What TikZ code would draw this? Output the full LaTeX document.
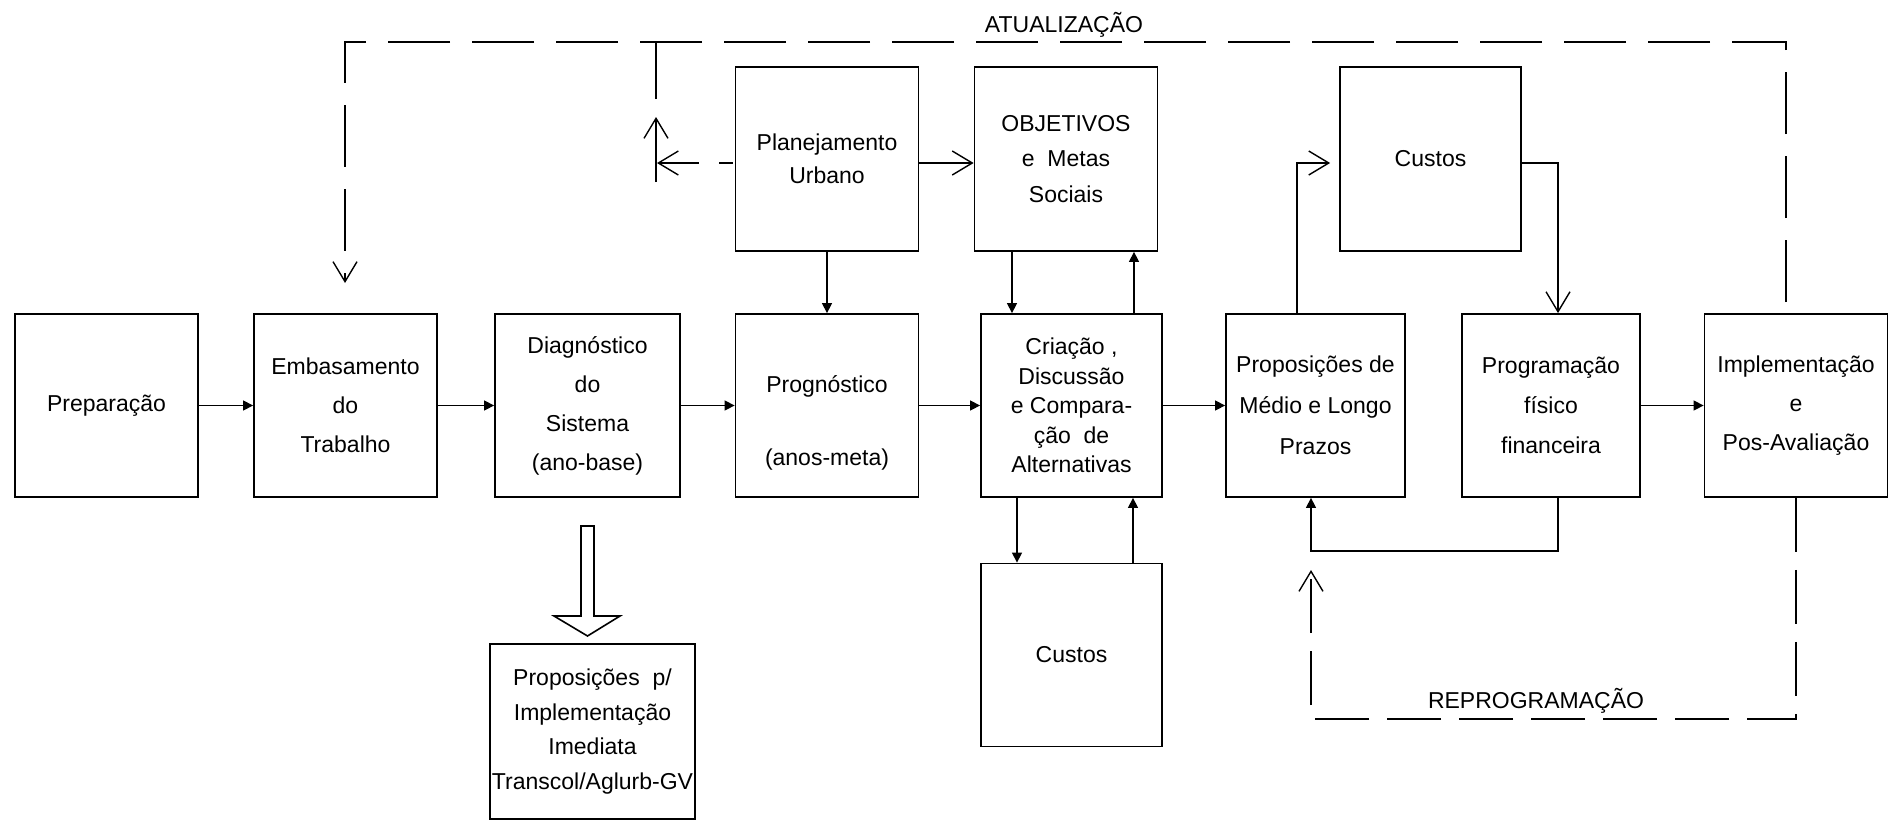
\documentclass[tikz,border=0pt]{standalone}
\usepackage{fontspec}
\setmainfont{Liberation Sans}
\usetikzlibrary{arrows.meta,calc}
\begin{document}
\begin{tikzpicture}[x=0.5pt,y=-0.5pt,
  bx/.style={draw, line width=0.9pt, inner sep=0pt, align=center, minimum width=91.5pt, minimum height=91.5pt},
  ls/.style={font=\fontsize{11.5pt}{#1}\selectfont},
  txt/.style={inner sep=0pt, font=\fontsize{11.5pt}{14pt}\selectfont},
  conn/.style={line width=0.7pt},
  fil/.tip={Triangle[length=5pt,width=5pt]},
  opn/.tip={Straight Barb[length=10pt,width=12pt,line width=0.7pt]},
  dsh/.style={dash pattern=on 31pt off 11pt},
]
\useasboundingbox (0,0) rectangle (1892,825);

% main row
\node[bx, ls=14pt] (prep) at (106.5,405.5) {Preparação};
\node[bx, ls=19.5pt] (emb) at (345.5,405.5) {Embasamento\\do\\Trabalho};
\node[bx, ls=19.5pt, minimum width=92.5pt] (diag) at (587.5,405.5) {Diagnóstico\\do\\Sistema\\(ano-base)};
\node[bx] (prog) at (827,405.5) {};
\node[txt] (progt1) at (827,386) {Prognóstico};
\node[txt] (progt2) at (827,460) {(anos-meta)};
\node[bx, ls=14.75pt, minimum width=90.5pt] (cria) at (1071.5,405.5) {Criação ,\\Discussão\\e Compara-\\ção~ de\\Alternativas};
\node[bx, ls=20.5pt, minimum width=89.5pt] (prop) at (1315.5,405.5) {Proposições de\\Médio e Longo\\Prazos};
\node[bx, ls=20pt, minimum width=89pt] (progr) at (1551,405.5) {Programação\\físico\\financeira};
\node[bx, ls=19.5pt] (impl) at (1796,405.5) {Implementação\\e\\Pos-Avaliação};

% upper row
\node[bx, ls=16.5pt, minimum height=92pt] (plan) at (827,159) {Planejamento\\Urbano};
\node[bx, ls=17.75pt, minimum height=92pt] (obj) at (1066,159) {OBJETIVOS\\e~~Metas\\Sociais};
\node[bx, ls=14pt, minimum width=90.5pt, minimum height=92pt] (cust1) at (1430.5,159) {Custos};

% lower
\node[bx, ls=14pt, minimum width=90.5pt] (cust2) at (1071.5,655) {Custos};
\node[bx, ls=17.2pt, minimum width=102.5pt, minimum height=87.5pt] (pimm) at (592.5,731.5) {Proposições~ p/\\Implementação\\Imediata\\Transcol/Aglurb-GV};

% labels
\node[txt] (atu) at (1064,25) {ATUALIZAÇÃO};
\node[txt] (rep) at (1536,701) {REPROGRAMAÇÃO};

% helper coordinates
\coordinate (x1012) at (1012,0);
\coordinate (x1134) at (1134,0);
\coordinate (x1017) at (1017,0);
\coordinate (x1133) at (1133,0);
\coordinate (x1297) at (1297,0);
\coordinate (x1311) at (1311,0);
\coordinate (x1558) at (1558,0);
\coordinate (y163) at (0,163);

% main row arrows
\draw[conn,-{fil}] (prep.east) -- (emb.west);
\draw[conn,-{fil}] (emb.east) -- (diag.west);
\draw[conn,-{fil}] (diag.east) -- (prog.west);
\draw[conn,-{fil}] (prog.east) -- (cria.west);
\draw[conn,-{fil}] (cria.east) -- (prop.west);
\draw[conn,-{fil}] (progr.east) -- (impl.west);

% vertical links
\draw[conn,-{fil}] (plan.south) -- (prog.north);
\draw[conn,-{fil}] (obj.south -| x1012) -- (cria.north -| x1012);
\draw[conn,-{fil}] (cria.north -| x1134) -- (obj.south -| x1134);
\draw[conn,-{fil}] (cria.south -| x1017) -- (cust2.north -| x1017);
\draw[conn,-{fil}] (cust2.north -| x1133) -- (cria.south -| x1133);

% custos loop
\draw[conn,-{opn},shorten >=4.5pt] (prop.north -| x1297) |- (cust1.west |- y163);
\draw[conn,-{opn}] (cust1.east |- y163) -| (progr.north -| x1558);
\draw[conn,-{fil}] (progr.south -| x1558) -- ++(0,53) -| (prop.south -| x1311);

% planejamento links
\draw[conn,-{opn}] (plan.east |- y163) -- (obj.west |- y163);
\coordinate (tipL) at (657,163);
\draw[conn,{opn}-,dash pattern=on 20pt off 10pt on 7pt off 2.5pt] (tipL) -- (plan.west |- y163);
\coordinate (v1) at (656,182);
\coordinate (v2) at (656,117);
\coordinate (v3) at (656,99);
\coordinate (v4) at (656,42);
\draw[conn,-{opn}] (v1) -- (v2);
\draw[conn] (v3) -- (v4);

% atualizacao loop
\coordinate (r1) at (1786,302);
\coordinate (tr) at (1786,42);
\coordinate (tl) at (345,42);
\coordinate (l1) at (345,283);
\draw[conn,dsh,-{opn}] (r1) -- (tr) -- (tl) -- (l1);

% reprogramacao loop
\coordinate (bb) at (0,719);
\coordinate (bt) at (1311,570);
\draw[conn,dash pattern=on 27pt off 9pt,-{opn}] (impl.south) -- (impl.south |- bb) -- (bt |- bb) -- (bt);

% hollow arrow
\draw[line width=0.8pt, fill=white] (581,526) -- (594,526) -- (594,616) -- (620,616) -- (587.5,636) -- (554,616) -- (581,616) -- cycle;
\end{tikzpicture}
\end{document}
